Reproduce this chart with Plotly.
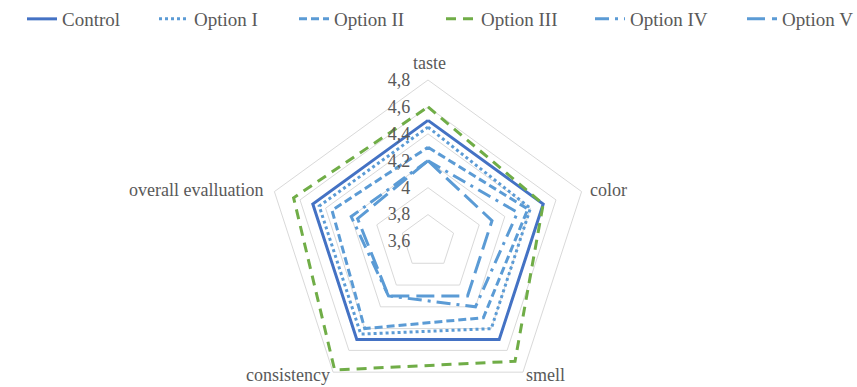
import math
import plotly.graph_objects as go

# Sensory attributes, clockwise from the top
categories = ["taste", "color", "smell", "consistency", "overall evalluation"]

control = [4.5, 4.5, 4.5, 4.5, 4.5]
option_1 = [4.45, 4.4, 4.4, 4.45, 4.45]
option_2 = [4.3, 4.38, 4.3, 4.4, 4.35]
option_3 = [4.6, 4.5, 4.7, 4.78, 4.65]
option_4 = [4.2, 4.3, 4.2, 4.1, 4.2]
option_5 = [4.2, 4.1, 4.1, 4.1, 4.15]

series_names = ["Control", "Option I", "Option II", "Option III", "Option IV", "Option V"]
series_values = [control, option_1, option_2, option_3, option_4, option_5]

colors = ["#4472C4", "#5B9BD5", "#5B9BD5", "#70AD47", "#5B9BD5", "#5B9BD5"]
dashes = ["solid", "dot", "8px,4px", "10px,7px", "14px,6px,3px,6px", "18px,7px"]
legend_widths = [87, 95, 102, 104, 107, 70]

FONT = "Liberation Serif"
TEXT = "#595959"
GRID = "#D9D9D9"

W, H = 857, 410
cx, cy, R = 428, 241.5, 161.5

fig = go.Figure()
for name, vals, col, dash, lw in zip(series_names, series_values, colors, dashes, legend_widths):
    fig.add_trace(go.Scatterpolar(
        r=vals + vals[:1],
        theta=categories + categories[:1],
        mode="lines",
        name=name,
        line=dict(color=col, width=3, dash=dash),
        legendwidth=lw,
    ))

# Category captions around the outer pentagon: (dx, dy, xanchor) from each vertex
label_offsets = [(2, -17, "center"), (6, -2, "left"), (23, 3, "center"),
                 (-45, 3, "center"), (-9, -2, "right")]
annotations = []
for i, (cat, (dx, dy, xa)) in enumerate(zip(categories, label_offsets)):
    ang = math.radians(90 - 72 * i)
    vx = cx + R * math.cos(ang)
    vy = cy - R * math.sin(ang)
    annotations.append(dict(
        text=cat, xref="paper", yref="paper",
        x=(vx + dx) / W, y=(H - (vy + dy)) / H,
        xanchor=xa, yanchor="middle", showarrow=False,
        font=dict(family=FONT, size=18, color=TEXT),
    ))

fig.update_layout(
    width=W,
    height=H,
    margin=dict(l=0, r=0, t=0, b=0),
    paper_bgcolor="white",
    separators=", ",
    font=dict(family=FONT, size=18, color=TEXT),
    showlegend=True,
    legend=dict(
        orientation="h",
        x=31 / W, xanchor="left",
        y=1, yanchor="top",
        font=dict(family=FONT, size=19, color=TEXT),
        itemwidth=30,
    ),
    annotations=annotations,
    polar=dict(
        domain=dict(x=[(cx - R) / W, (cx + R) / W],
                    y=[(H - cy - R) / H, (H - cy + R) / H]),
        gridshape="linear",
        bgcolor="white",
        radialaxis=dict(
            range=[3.6, 4.8],
            tick0=3.6,
            dtick=0.2,
            angle=90,
            tickangle=90,
            side="counterclockwise",
            showline=False,
            ticks="outside",
            ticklen=11,
            tickcolor="rgba(0,0,0,0)",
            gridcolor=GRID,
            gridwidth=1,
            tickfont=dict(family=FONT, size=18, color=TEXT),
        ),
        angularaxis=dict(
            direction="clockwise",
            rotation=90,
            showgrid=False,
            showline=True,
            linecolor=GRID,
            linewidth=1,
            ticks="",
            showticklabels=False,
        ),
    ),
)

fig.write_html("out.html", post_script="document.body.style.overflow='hidden';")
